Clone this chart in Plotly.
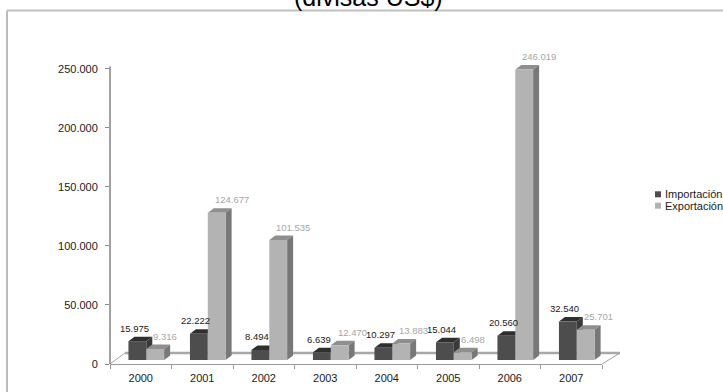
import plotly.graph_objects as go

# ---------------- data ----------------
years = ["2000", "2001", "2002", "2003", "2004", "2005", "2006", "2007"]
importacion = [15975, 22222, 8494, 6639, 10297, 15044, 20560, 32540]
exportacion = [9316, 124677, 101535, 12470, 13883, 6498, 246019, 25701]
series_names = ["Importación", "Exportación"]
y_ticks = [0, 50000, 100000, 150000, 200000, 250000]

# ---------------- layout constants ----------------
W_FIG, H_FIG = 723, 392
L, R, T, B = 110, 121, 57, 28
PW = W_FIG - L - R
PH = H_FIG - T - B
YMAX = 260000
UPX = 1.0 / (PW / 8.0)          # x data units per pixel
UPY = YMAX / PH                  # y data units per pixel

BASE = 4 * UPY                   # bars stand slightly behind the front edge
DDX = 6 * UPX                    # 3D depth (x)
DDY = 4.5 * UPY                  # 3D depth (y)
BW = 0.29
OFFS = [-0.20, 0.09]

FRONT = ["#4d4d4d", "#b3b3b3"]
TOP = ["#2f2f2f", "#8f8f8f"]
SIDE = ["#3a3a3a", "#787878"]
LABEL_COL = ["#1a1a1a", "#a6a6a6"]
FONT = "Liberation Sans, Arial, sans-serif"


def pxx(px):
    return (px - L) / PW


def pxy(py):
    return (H_FIG - B - py) / PH


def fmt(v):
    return f"{v:,}".replace(",", ".")


xs = list(range(len(years)))
fig = go.Figure()
shapes = []
annotations = []

# chart frame
shapes.append(dict(type="line", xref="paper", yref="paper", x0=pxx(7), x1=pxx(7),
                   y0=pxy(400), y1=pxy(10.5), line=dict(color="#8c8c8c", width=1.2), layer="below"))
shapes.append(dict(type="line", xref="paper", yref="paper", x0=pxx(7), x1=pxx(730),
                   y0=pxy(10.5), y1=pxy(10.5), line=dict(color="#c0c0c0", width=2), layer="below"))

# floor
shapes.append(dict(type="line", xref="paper", yref="paper", x0=pxx(125), x1=pxx(620),
                   y0=pxy(353), y1=pxy(353), line=dict(color="#a8a8a8", width=2.5), layer="below"))
shapes.append(dict(type="line", xref="paper", yref="paper", x0=pxx(110), x1=pxx(125),
                   y0=pxy(364), y1=pxy(353), line=dict(color="#a0a0a0", width=1), layer="below"))
shapes.append(dict(type="line", xref="paper", yref="paper", x0=pxx(602), x1=pxx(620),
                   y0=pxy(364), y1=pxy(353), line=dict(color="#a0a0a0", width=1), layer="below"))

# y axis line
shapes.append(dict(type="line", xref="paper", yref="y", x0=0, x1=0, y0=0, y1=252000,
                   line=dict(color="#8a8a8a", width=1.6)))

for s, vals in enumerate([importacion, exportacion]):
    fig.add_trace(go.Bar(
        x=xs, y=vals, base=BASE, width=BW, offset=OFFS[s], name=series_names[s],
        marker=dict(color=FRONT[s], line=dict(width=0)), showlegend=False,
        hovertemplate="%{x}: %{y}<extra>" + series_names[s] + "</extra>",
    ))
    for i, v in enumerate(vals):
        xl = i + OFFS[s]
        xr = xl + BW
        top = BASE + v
        shapes.append(dict(type="path", xref="x", yref="y", layer="below",
                           path=f"M{xl},{top} L{xr},{top} L{xr+DDX},{top+DDY} L{xl+DDX},{top+DDY} Z",
                           fillcolor=TOP[s], line=dict(width=0)))
        shapes.append(dict(type="path", xref="x", yref="y", layer="below",
                           path=f"M{xr},{BASE} L{xr},{top} L{xr+DDX},{top+DDY} L{xr+DDX},{BASE+DDY} Z",
                           fillcolor=SIDE[s], line=dict(width=0)))
        if s == 0:
            annotations.append(dict(x=xl + BW / 2, y=top + DDY, xref="x", yref="y", text=fmt(v),
                                    showarrow=False, xanchor="center", yanchor="bottom",
                                    xshift=-3, yshift=1,
                                    font=dict(size=9.5, color=LABEL_COL[s], family=FONT)))
        else:
            annotations.append(dict(x=xl, y=top + DDY, xref="x", yref="y", text=fmt(v),
                                    showarrow=False, xanchor="left", yanchor="bottom",
                                    xshift=5, yshift=1,
                                    font=dict(size=9.5, color=LABEL_COL[s], family=FONT)))

# manual legend
leg_y = [194.3, 205.7]
for s in range(2):
    shapes.append(dict(type="rect", xref="paper", yref="paper",
                       x0=pxx(655), x1=pxx(661), y0=pxy(leg_y[s] + 3), y1=pxy(leg_y[s] - 3),
                       fillcolor=FRONT[s], line=dict(width=0)))
    annotations.append(dict(x=pxx(663), y=pxy(leg_y[s]), xref="paper", yref="paper",
                            text=series_names[s], showarrow=False, xanchor="left", yanchor="middle",
                            font=dict(size=11, color="#1a1a1a", family=FONT)))

# title (partially cut at the top, as in the reference)
annotations.append(dict(x=pxx(368), y=pxy(13), xref="paper", yref="paper",
                        text="(divisas US$)", showarrow=False, xanchor="center", yanchor="bottom",
                        font=dict(size=25, color="#000000", family=FONT)))

fig.update_layout(
    width=W_FIG, height=H_FIG,
    margin=dict(l=L, r=R, t=T, b=B, pad=0, autoexpand=False),
    paper_bgcolor="white", plot_bgcolor="white",
    separators=",.",
    barmode="overlay",
    shapes=shapes, annotations=annotations,
    font=dict(family=FONT, size=11, color="#1a1a1a"),
    xaxis=dict(range=[-0.5, 7.5], tickmode="array", tickvals=xs, ticktext=years,
               ticks="", showline=True, linecolor="#9a9a9a", linewidth=1, automargin=False,
               showgrid=False, zeroline=False, fixedrange=True, ticklabelstandoff=4,
               tickfont=dict(size=11, color="#1a1a1a"),
               minor=dict(tickmode="array", tickvals=[i - 0.5 for i in range(len(years) + 1)],
                          ticks="outside", ticklen=4, tickcolor="#9a9a9a", tickwidth=1)),
    yaxis=dict(range=[0, YMAX], tickmode="array", tickvals=y_ticks, automargin=False,
               tickformat=",d", ticks="outside", ticklen=4, tickcolor="#8a8a8a",
               showline=False, showgrid=False, zeroline=False, fixedrange=True,
               ticklabelstandoff=5,
               tickfont=dict(size=11, color="#1a1a1a")),
)

fig.write_html("out.html")
